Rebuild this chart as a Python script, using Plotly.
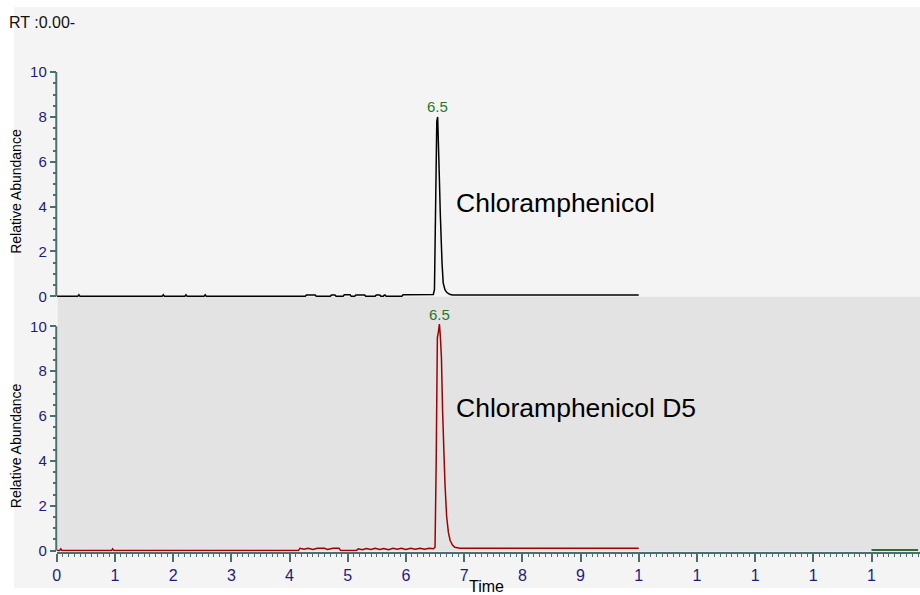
import plotly.graph_objects as go

# ---------------- data ----------------
top_time = [0.0, 0.36, 0.38, 0.40, 1.81, 1.83, 1.85, 2.20, 2.22, 2.24, 2.53, 2.55, 2.57,
            4.27, 4.29, 4.44, 4.46, 4.70, 4.72, 4.78, 4.80, 4.92, 4.94, 5.04, 5.06, 5.12, 5.14,
            5.29, 5.31, 5.47, 5.49, 5.55, 5.57, 5.61, 5.63, 5.64, 5.66, 5.93, 5.95, 6.37, 6.40, 6.47,
            6.49, 6.51, 6.53, 6.545, 6.56, 6.575, 6.59, 6.60, 6.62, 6.64, 6.67, 6.70, 6.75, 6.80, 10.0]
top_abund = [0.0, 0.0, 0.07, 0.0, 0.0, 0.07, 0.0, 0.0, 0.07, 0.0, 0.0, 0.07, 0.0,
             0.0, 0.06, 0.06, 0.0, 0.0, 0.06, 0.06, 0.0, 0.0, 0.07, 0.07, 0.0, 0.0, 0.06,
             0.06, 0.0, 0.0, 0.06, 0.06, 0.0, 0.0, 0.06, 0.06, 0.0, 0.0, 0.07, 0.07, 0.05, 0.08,
             0.3, 3.2, 7.8, 8.0, 7.0, 5.2, 3.7, 2.7, 1.5, 0.6, 0.3, 0.18, 0.09, 0.06, 0.06]

bot_time = [0.0, 0.05, 0.07, 0.09, 0.94, 0.96, 0.98, 4.15, 4.18, 4.25, 4.32, 4.40, 4.48, 4.60,
            4.65, 4.75, 4.85, 4.88, 5.15, 5.18, 5.25, 5.32, 5.40, 5.47, 5.55, 5.62, 5.70, 5.78,
            5.85, 5.92, 6.00, 6.08, 6.16, 6.24, 6.32, 6.40, 6.47,
            6.50, 6.52, 6.54, 6.555, 6.565, 6.575, 6.59, 6.61, 6.63, 6.64, 6.67, 6.70, 6.73,
            6.76, 6.80, 6.84, 6.93, 10.0]
bot_abund = [0.0, 0.0, 0.08, 0.0, 0.0, 0.08, 0.0, 0.0, 0.1, 0.06, 0.1, 0.05, 0.1, 0.1,
             0.05, 0.1, 0.1, 0.0, 0.0, 0.08, 0.04, 0.09, 0.05, 0.1, 0.05, 0.09, 0.04, 0.1,
             0.06, 0.1, 0.05, 0.1, 0.06, 0.1, 0.06, 0.1, 0.08,
             0.15, 4.0, 9.5, 9.7, 9.9, 10.1, 9.6, 8.6, 6.2, 5.2, 3.0, 1.5, 0.8,
             0.45, 0.25, 0.15, 0.1, 0.1]

green_time = [14.0, 14.8]
green_abund = [0.03, 0.03]

x_tickvals = list(range(15))
x_ticktext = ["0", "1", "2", "3", "4", "5", "6", "7", "8", "9", "1", "1", "1", "1", "1"]
y_tickvals = [0, 2, 4, 6, 8, 10]

top_peak = (6.545, 8.0, "6.5")
bot_peak = (6.575, 10.1, "6.5")
top_name = "Chloramphenicol"
bot_name = "Chloramphenicol D5"
header = "RT :0.00-"

# ---------------- styling ----------------
W, H = 920, 595
FONT = "Liberation Sans, Arial, sans-serif"
AX = "#4b6e6e"
NAVY = "#1c1c80"
GREEN = "#1f7a1f"
SY = 1.013  # vertical correction measured against the render

def px_x(p):
    return p / W

def px_y(p):
    return (H - p * SY) / H

x_left = 53
x_range = [0, (W - x_left) / 58.45]
upp = 22.4 * SY  # pixels per unit

bot_dom = [px_y(551), px_y(296.5)]
bot_range = [-(551 - 550) * SY / upp, (550 - 296.5) * SY / upp]
top_dom = [px_y(297.5), px_y(40)]
top_range = [-(297.5 - 296) * SY / upp, (296 - 40) * SY / upp]

fig = go.Figure()
fig.add_trace(go.Scatter(x=top_time, y=top_abund, xaxis="x2", yaxis="y",
                         mode="lines", line=dict(color="#000000", width=1.5),
                         showlegend=False, hoverinfo="skip"))
fig.add_trace(go.Scatter(x=bot_time, y=bot_abund, xaxis="x", yaxis="y2",
                         mode="lines", line=dict(color="#a00000", width=1.5),
                         showlegend=False, hoverinfo="skip"))
fig.add_trace(go.Scatter(x=green_time, y=green_abund, xaxis="x", yaxis="y2",
                         mode="lines", line=dict(color="#2e6e2e", width=2),
                         showlegend=False, hoverinfo="skip"))

minor_y = [v / 2 for v in range(0, 21) if v % 4 != 0]

yaxis_common = dict(
    tickmode="array", tickvals=y_tickvals, ticks="outside", ticklen=6,
    tickwidth=1.5, tickcolor=AX, showgrid=False, zeroline=False, showline=False,
    tickfont=dict(family=FONT, size=15, color=NAVY),
    minor=dict(tickmode="array", tickvals=minor_y, ticks="outside", ticklen=3,
               tickwidth=1.5, tickcolor=AX),
    anchor="x", fixedrange=True,
)

fig.update_layout(
    width=W, height=H,
    margin=dict(l=0, r=0, t=0, b=0),
    paper_bgcolor="#ffffff",
    plot_bgcolor="rgba(0,0,0,0)",
    font=dict(family=FONT),
    xaxis=dict(domain=[px_x(x_left), 1], range=x_range, anchor="y2",
               tickmode="array", tickvals=x_tickvals, ticktext=x_ticktext,
               ticks="outside", ticklen=8, tickwidth=1.5, tickcolor=AX,
               showline=True, linewidth=2, linecolor=AX,
               showgrid=False, zeroline=False,
               tickfont=dict(family=FONT, size=16, color=NAVY),
               minor=dict(dtick=0.1, tick0=0, ticks="outside", ticklen=3,
                          tickwidth=1, tickcolor=AX)),
    xaxis3=dict(overlaying="x", range=x_range, anchor="y2",
                tickmode="array", tickvals=[i + 0.5 for i in range(15)],
                ticks="outside", ticklen=5, tickwidth=1.5, tickcolor=AX,
                showticklabels=False, showline=False, showgrid=False, zeroline=False),
    xaxis2=dict(domain=[px_x(x_left), 1], range=x_range, anchor="y",
                visible=False, matches="x"),
    yaxis=dict(domain=top_dom, range=top_range, **yaxis_common),
    yaxis2=dict(domain=bot_dom, range=bot_range, **yaxis_common),
)

shapes = [
    dict(type="rect", xref="paper", yref="paper", x0=px_x(10), x1=1, y0=0, y1=px_y(7),
         fillcolor="#f4f4f4", line=dict(width=0), layer="below"),
    dict(type="rect", xref="paper", yref="paper", x0=px_x(54), x1=1,
         y0=px_y(551), y1=px_y(296.5),
         fillcolor="#e3e3e3", line=dict(width=0), layer="below"),
    dict(type="line", xref="paper", yref="y", x0=px_x(52.5), x1=px_x(52.5), y0=0, y1=10,
         line=dict(color=AX, width=2)),
    dict(type="line", xref="paper", yref="y2", x0=px_x(52.5), x1=px_x(52.5), y0=0, y1=10,
         line=dict(color=AX, width=2)),
]
fig.update_layout(shapes=shapes)

ann = [
    dict(text=header, xref="paper", yref="paper", x=px_x(3.5), y=px_y(22),
         xanchor="left", yanchor="middle", showarrow=False,
         font=dict(family=FONT, size=16, color="#111111")),
    dict(text=top_peak[2], xref="x2", yref="y", x=top_peak[0], y=top_peak[1],
         xanchor="center", yanchor="bottom", yshift=0, showarrow=False,
         font=dict(family=FONT, size=15, color=GREEN)),
    dict(text=bot_peak[2], xref="x", yref="y2", x=bot_peak[0], y=bot_peak[1],
         xanchor="center", yanchor="bottom", yshift=-1, showarrow=False,
         font=dict(family=FONT, size=15, color=GREEN)),
    dict(text=top_name, xref="paper", yref="paper", x=px_x(452), y=px_y(203),
         xanchor="left", yanchor="middle", showarrow=False,
         font=dict(family=FONT, size=26.5, color="#000000")),
    dict(text=bot_name, xref="paper", yref="paper", x=px_x(452), y=px_y(408),
         xanchor="left", yanchor="middle", showarrow=False,
         font=dict(family=FONT, size=26.5, color="#000000")),
    dict(text="Relative Abundance", xref="paper", yref="y", x=px_x(12), y=4.7,
         textangle=-90, xanchor="center", yanchor="middle", showarrow=False,
         font=dict(family=FONT, size=14, color="#000000")),
    dict(text="Relative Abundance", xref="paper", yref="y2", x=px_x(12), y=4.7,
         textangle=-90, xanchor="center", yanchor="middle", showarrow=False,
         font=dict(family=FONT, size=14, color="#000000")),
    dict(text="Time", xref="paper", yref="paper", x=px_x(485), y=px_y(586),
         xanchor="center", yanchor="middle", showarrow=False,
         font=dict(family=FONT, size=16, color="#000000")),
]
fig.update_layout(annotations=ann)

post = ("document.documentElement.style.overflow='hidden';"
        "document.body.style.margin='0';"
        "var d=document.getElementById('{plot_id}');"
        "d.style.position='fixed';d.style.left='0px';d.style.top='0px';")

fig.write_html("out.html", config={"displayModeBar": False}, post_script=post)
